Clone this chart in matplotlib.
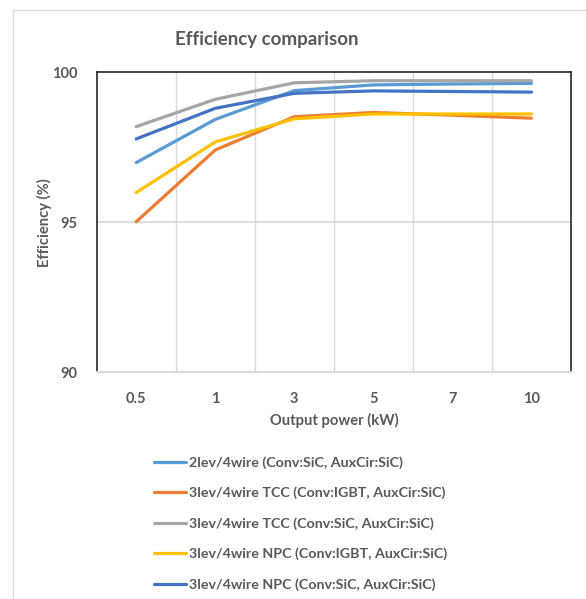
import matplotlib
matplotlib.use("Agg")
import matplotlib.pyplot as plt
from matplotlib.lines import Line2D

# Output power categories (kW) and efficiency (%) per converter topology
power_labels = ["0.5", "1", "3", "5", "7", "10"]

eff_2lev_sic = [96.99, 98.43, 99.39, 99.58, 99.61, 99.63]
eff_3lev_tcc_igbt = [95.02, 97.41, 98.52, 98.66, 98.57, 98.47]
eff_3lev_tcc_sic = [98.19, 99.10, 99.65, 99.72, 99.72, 99.72]
eff_3lev_npc_igbt = [95.99, 97.68, 98.45, 98.61, 98.61, 98.61]
eff_3lev_npc_sic = [97.78, 98.80, 99.30, 99.38, 99.36, 99.34]

series_names = [
    "2lev/4wire (Conv:SiC, AuxCir:SiC)",
    "3lev/4wire TCC (Conv:IGBT, AuxCir:SiC)",
    "3lev/4wire TCC (Conv:SiC, AuxCir:SiC)",
    "3lev/4wire NPC (Conv:IGBT, AuxCir:SiC)",
    "3lev/4wire NPC (Conv:SiC, AuxCir:SiC)",
]
series_values = [eff_2lev_sic, eff_3lev_tcc_igbt, eff_3lev_tcc_sic,
                 eff_3lev_npc_igbt, eff_3lev_npc_sic]
series_colors = ["#5B9BD5", "#ED7D31", "#A5A5A5", "#FFC000", "#4472C4"]

y_ticks = [90, 95, 100]

plt.rcParams["font.family"] = ["Lato", "DejaVu Sans"]
text_color = "#595959"
grid_color = "#D9D9D9"

W, H = 586, 599
fig = plt.figure(figsize=(W / 100, H / 100), dpi=100)

# plot area in pixel coordinates
left, right, top, bottom = 96.7, 571.0, 72.3, 372.3
ax = fig.add_axes([left / W, 1 - bottom / H, (right - left) / W, (bottom - top) / H])

x = list(range(len(power_labels)))
handles = []
for name, vals, col in zip(series_names, series_values, series_colors):
    (ln,) = ax.plot(x, vals, color=col, lw=2.3, solid_capstyle="round",
                    label=name, zorder=3)
    handles.append(ln)

ax.set_xlim(-0.5, len(power_labels) - 0.5)
ax.set_ylim(90, 100)
ax.set_yticks(y_ticks)
ax.set_xticks(x)
ax.set_xticklabels(power_labels)

# category separators and value gridlines
for xb in [i + 0.5 for i in range(len(power_labels) - 1)]:
    ax.axvline(xb, color=grid_color, lw=1.0, zorder=1)
for yv in y_ticks[:-1]:
    ax.axhline(yv, color=grid_color, lw=1.2, zorder=1)

for side in ["left", "top", "right"]:
    ax.spines[side].set_color("#262626")
    ax.spines[side].set_linewidth(1.2)
ax.spines["bottom"].set_color(grid_color)
ax.spines["bottom"].set_linewidth(1.5)

ax.tick_params(axis="both", length=0, colors=text_color, labelsize=10.5)
ax.tick_params(axis="x", pad=14)
ax.tick_params(axis="y", pad=14)
for lbl in ax.get_xticklabels() + ax.get_yticklabels():
    lbl.set_fontweight("bold")

ax.set_xlabel("Output power (kW)", fontsize=10.6, fontweight="bold",
              color=text_color, labelpad=5)
ax.set_ylabel("Efficiency (%)", fontsize=10.6, fontweight="bold",
              color=text_color, labelpad=0)

fig.text(267 / W, 1 - 40 / H, "Efficiency comparison", ha="center", va="center",
         fontsize=13.5, fontweight="bold", color=text_color)

# chart frame edges
fig.add_artist(Line2D([13 / W, 13 / W], [0, 1 - 10 / H], transform=fig.transFigure,
                      color=grid_color, lw=1.0))
fig.add_artist(Line2D([13 / W, 1], [1 - 10 / H, 1 - 10 / H], transform=fig.transFigure,
                      color=grid_color, lw=1.0))

leg = fig.legend(handles=handles, loc="upper left",
                 bbox_to_anchor=(154 / W, 1 - 456 / H), frameon=False,
                 fontsize=10.3, handlelength=2.25, handletextpad=0.2,
                 labelspacing=1.25, borderaxespad=0, borderpad=0)
for t in leg.get_texts():
    t.set_fontweight("bold")
    t.set_color(text_color)

fig.savefig("out.png", dpi=100, facecolor="white")
